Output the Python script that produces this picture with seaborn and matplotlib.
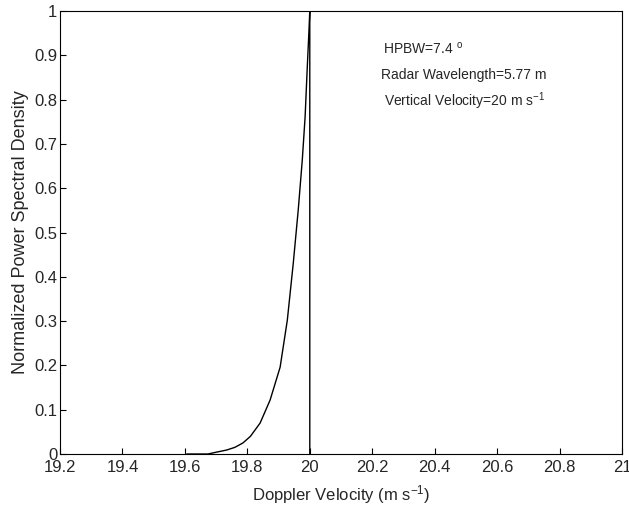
import matplotlib
matplotlib.use('Agg')
import matplotlib.pyplot as plt
import seaborn as sns
import pandas as pd

# values
velocity = [19.606, 19.674, 19.70, 19.734, 19.76, 19.786, 19.81, 19.841, 19.873,
            19.905, 19.928, 19.947, 19.963, 19.976, 19.985, 19.992, 19.997, 20.0, 20.0]
psd = [0.0, 0.0, 0.004, 0.009, 0.015, 0.025, 0.04, 0.070, 0.122,
       0.196, 0.302, 0.430, 0.551, 0.664, 0.761, 0.874, 0.950, 1.0, 0.0]
xticks = [19.2, 19.4, 19.6, 19.8, 20, 20.2, 20.4, 20.6, 20.8, 21]
yticks = [0, 0.1, 0.2, 0.3, 0.4, 0.5, 0.6, 0.7, 0.8, 0.9, 1]

df = pd.DataFrame({'v': velocity, 'p': psd})

sns.set_style('white')
plt.rcParams['font.family'] = ['Liberation Sans', 'DejaVu Sans']
plt.rcParams['mathtext.default'] = 'regular'

fig = plt.figure(figsize=(6.29, 5.08), dpi=100)
ax = fig.add_axes([0.0954, 0.1063, 0.8935, 0.872])

sns.lineplot(data=df, x='v', y='p', sort=False, estimator=None,
             color='black', linewidth=1.0, ax=ax)

ax.set_xlim(19.2, 21)
ax.set_ylim(0, 1)
ax.set_xticks(xticks)
ax.set_xticklabels([f'{t:g}' for t in xticks])
ax.set_yticks(yticks)
ax.set_yticklabels([f'{t:g}' for t in yticks])
ax.tick_params(direction='in', length=4.5, width=0.8, color='black',
               labelsize=12, bottom=True, left=True, top=False, right=False)
ax.tick_params(axis='x', pad=4)
ax.tick_params(axis='y', pad=2)
for s in ax.spines.values():
    s.set_color('black')
    s.set_linewidth(0.8)

ax.set_xlabel('Doppler Velocity (m s$^{-1}$)', fontsize=12, labelpad=6)
ax.set_ylabel('Normalized Power Spectral Density', fontsize=13, labelpad=4)

ax.text(20.235, 0.916, 'HPBW=7.4 $^{o}$', fontsize=10, va='center')
ax.text(20.228, 0.856, 'Radar Wavelength=5.77 m', fontsize=10, va='center')
ax.text(20.238, 0.797, 'Vertical Velocity=20 m s$^{-1}$', fontsize=10, va='center')

fig.savefig('out.png', dpi=100)
